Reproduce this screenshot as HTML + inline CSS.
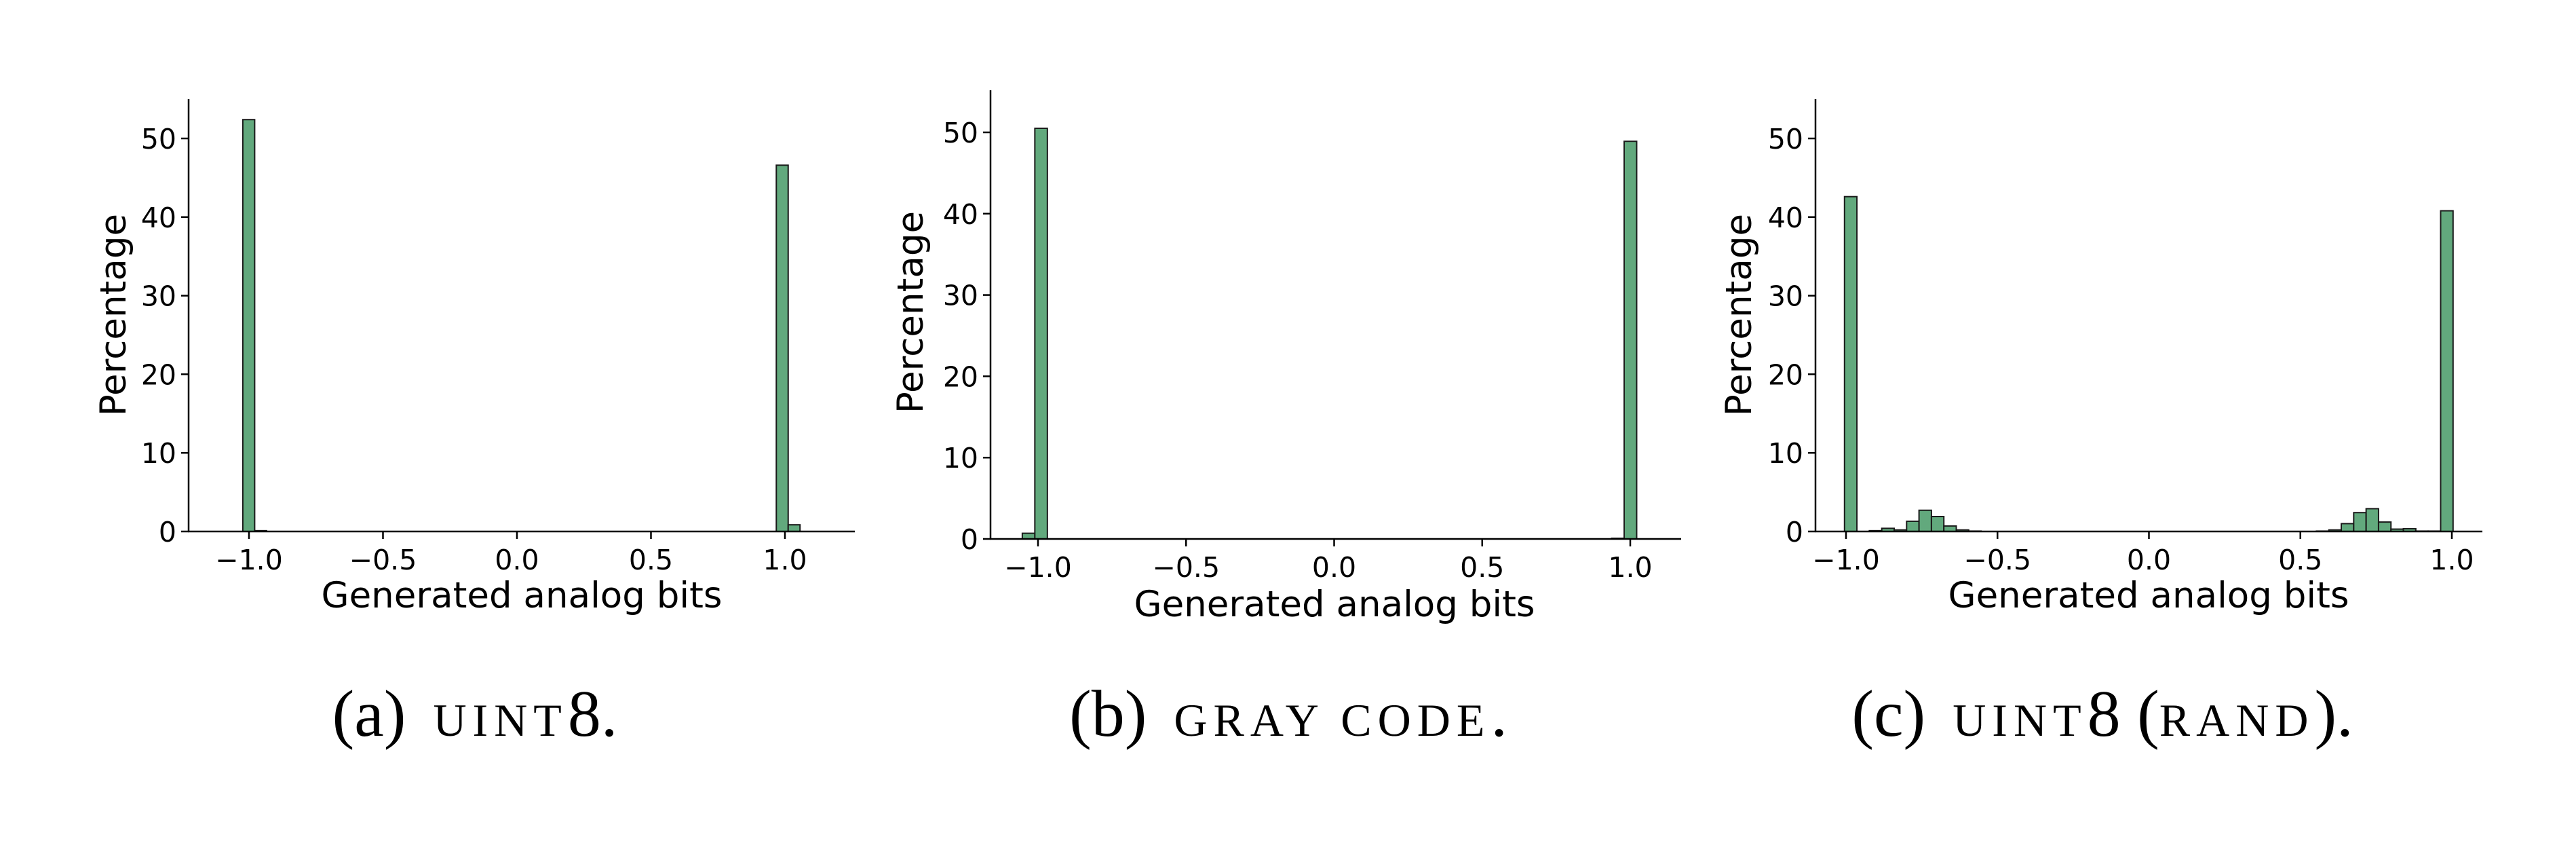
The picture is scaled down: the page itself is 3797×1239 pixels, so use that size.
<!DOCTYPE html>
<html><head><meta charset="utf-8"><style>
html,body{margin:0;padding:0;background:#fff;}
svg{display:block;}
.tick{font-family:"DejaVu Sans","Liberation Sans",sans-serif;font-size:41px;fill:#000;}
.lab{font-family:"DejaVu Sans","Liberation Sans",sans-serif;font-size:53px;fill:#000;}
.cap{font-family:"Liberation Serif",serif;font-size:98px;fill:#000;}
</style></head><body>
<svg id="fig" width="3797" height="1239" viewBox="0 0 3797 1239" xmlns="http://www.w3.org/2000/svg"></svg>
<script>
// Panel (a) uint8
const aEdge0 = -1.023, aWidth = 0.04424;
const aBins = [0, 1, 45, 46];
const aValues = [52.4, 0.1, 46.6, 0.85];
// Panel (b) gray code
const bEdge0 = -1.053, bWidth = 0.04234;
const bBins = [0, 1, 47, 48];
const bValues = [0.7, 50.5, 0.08, 48.9];
// Panel (c) uint8 (rand)
const cEdge0 = -1.005, cWidth = 0.041;
const cBins = [0, 2, 3, 4, 5, 6, 7, 8, 9, 10, 38, 39, 40, 41, 42, 43, 44, 45, 46, 47, 48];
const cValues = [42.6, 0.1, 0.4, 0.2, 1.3, 2.7, 1.9, 0.7, 0.2, 0.05, 0.05, 0.2, 1.0, 2.4, 2.9, 1.2, 0.3, 0.35, 0.05, 0.05, 40.8];
const xTicks = [-1.0, -0.5, 0.0, 0.5, 1.0];
const xTickLabels = ["\u22121.0", "\u22120.5", "0.0", "0.5", "1.0"];
const yTicks = [0, 10, 20, 30, 40, 50];
const yTickLabels = ["0", "10", "20", "30", "40", "50"];

const NS = "http://www.w3.org/2000/svg";
const svg = document.getElementById("fig");
function mk(tag, attrs, parent) {
  const e = document.createElementNS(NS, tag);
  for (const k in attrs) e.setAttribute(k, attrs[k]);
  (parent || svg).appendChild(e);
  return e;
}

const panels = [
  {id:"a", axX:278, axTop:146, axRight:1260, y0:783, y50:204, xm1:367, xp1:1157,
   edge0:aEdge0, w:aWidth, bins:aBins, vals:aValues, ylabX:166, ylabY:464, xlabX:769, xlabY:895, capX:700, capY:1084,
   cap:["(a)", "UINT", "8."]},
  {id:"b", axX:1460, axTop:133, axRight:2478, y0:794, y50:195, xm1:1530, xp1:2403,
   edge0:bEdge0, w:bWidth, bins:bBins, vals:bValues, ylabX:1341, ylabY:460, xlabX:1967, xlabY:908, capX:1899, capY:1084,
   cap:["(b)", "GRAY CODE", "."]},
  {id:"c", axX:2676, axTop:146, axRight:3659, y0:783, y50:204, xm1:2721, xp1:3614,
   edge0:cEdge0, w:cWidth, bins:cBins, vals:cValues, ylabX:2562, ylabY:464, xlabX:3167, xlabY:895, capX:3099, capY:1084,
   cap:["(c)", "UINT", "8 (", "RAND", ")."]}
];

panels.forEach(p => {
  const g = mk("g", {});
  
  
  const sx = v => p.xm1 + (v + 1) * (p.xp1 - p.xm1) / 2;
  const sy = v => p.y0 - v * (p.y0 - p.y50) / 50;
  p.bins.forEach((bi, i) => {
    const l = p.edge0 + bi * p.w;
    const x1 = sx(l), x2 = sx(l + p.w);
    const y = sy(p.vals[i]);
    const r = mk("rect", {x:x1, y:y, width:x2 - x1, height:p.y0 - y, fill:"#62a97d", stroke:"#1a1a1a", "stroke-width":2}, g);
    
    
  });
  const ya = mk("line", {x1:p.axX, y1:p.axTop, x2:p.axX, y2:p.y0 + 1, stroke:"#000", "stroke-width":2.5}, g);
  
  
  const xa = mk("line", {x1:p.axX - 1, y1:p.y0, x2:p.axRight, y2:p.y0, stroke:"#000", "stroke-width":2.5}, g);
  
  
  xTicks.forEach((t, i) => {
    const x = sx(t);
    mk("line", {x1:x, y1:p.y0, x2:x, y2:p.y0 + 11, stroke:"#000", "stroke-width":2.5}, g);
    const tx = mk("text", {x:x, y:p.y0 + 56, "text-anchor":"middle", class:"tick"}, g);
    tx.textContent = xTickLabels[i];
    
    
  });
  yTicks.forEach((t, i) => {
    const y = sy(t);
    mk("line", {x1:p.axX - 11, y1:y, x2:p.axX, y2:y, stroke:"#000", "stroke-width":2.5}, g);
    const tx = mk("text", {x:p.axX - 18, y:y + 15, "text-anchor":"end", class:"tick"}, g);
    tx.textContent = yTickLabels[i];
    
    
  });
  const yl = mk("text", {x:0, y:0, "text-anchor":"middle", class:"lab", transform:"translate(" + (p.ylabX + 19) + "," + p.ylabY + ") rotate(-90)"}, g);
  yl.textContent = "Percentage";
  
  
  const xl = mk("text", {x:p.xlabX, y:p.xlabY, "text-anchor":"middle", class:"lab"}, g);
  xl.textContent = "Generated analog bits";
  
  
  const cap = mk("text", {x:p.capX, y:p.capY, "text-anchor":"middle", class:"cap"}, g);
  
  
  p.cap.forEach((part, k) => {
    const small = (k % 2 === 1);
    const ts = mk("tspan", small ? {"font-size":"68", "letter-spacing":"9", dx:(k === 1 ? 40 : 0)} : {dx:(k > 1 && part.indexOf("(") >= 0 ? 0 : 0)}, cap);
    ts.textContent = part;
  });
});
</script>
</body></html>
